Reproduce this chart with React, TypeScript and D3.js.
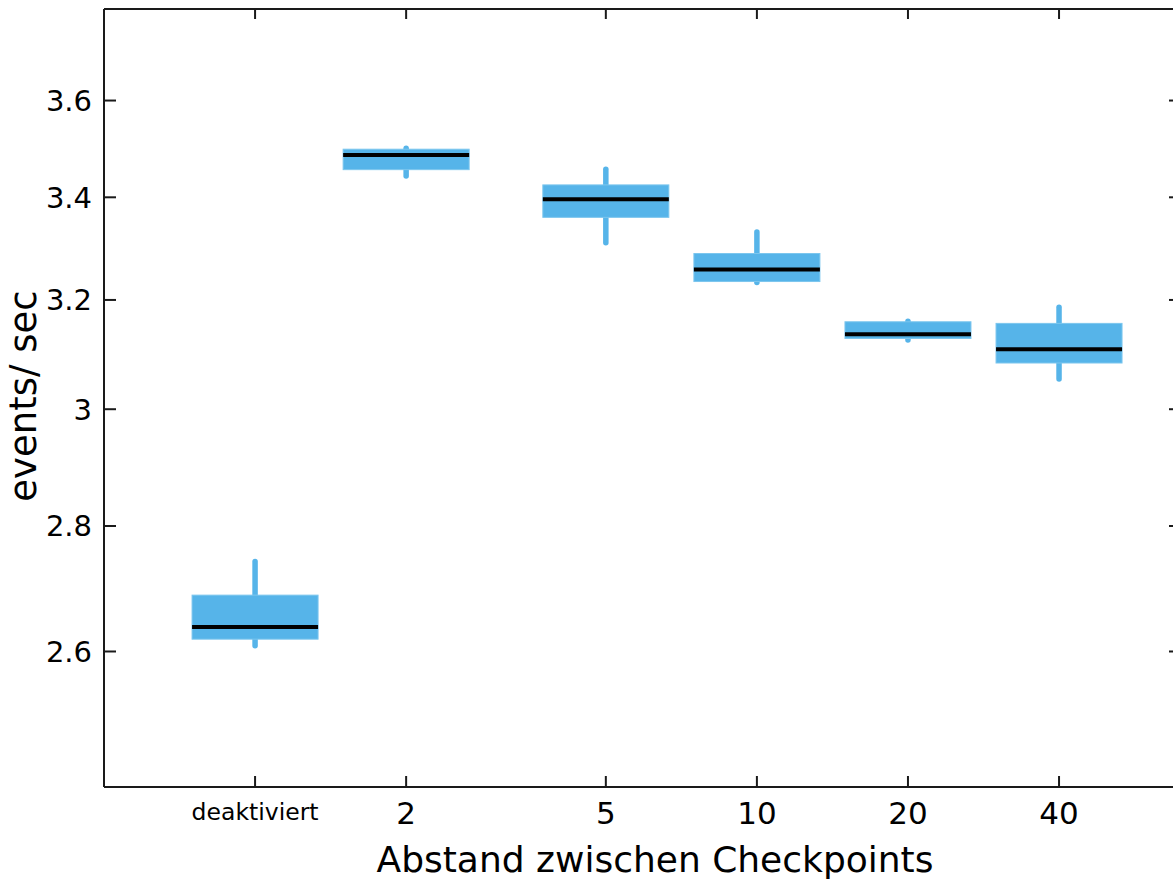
import React from "react";
import * as d3 from "d3";

// checkpoint distance (deaktiviert plotted at 1 on the log axis)
const positions = [1, 2, 5, 10, 20, 40];
const categories = ["deaktiviert", "2", "5", "10", "20", "40"];

// box stats (events/sec)
const whiskerLow = [2.609, 3.443, 3.31, 3.233, 3.125, 3.054];
const q1 = [2.619, 3.456, 3.36, 3.235, 3.128, 3.083];
const median = [2.638, 3.486, 3.396, 3.258, 3.136, 3.108];
const q3 = [2.688, 3.498, 3.425, 3.289, 3.159, 3.156];
const whiskerHigh = [2.742, 3.5, 3.457, 3.331, 3.16, 3.186];

const yTicks = [2.6, 2.8, 3, 3.2, 3.4, 3.6];

const W = 1173;
const H = 881;
const left = 104, right = 1181, top = 9, bottom = 787;
const boxColor = "#56B4E9";
const axisColor = "#1a1a1a";
const font = "DejaVu Sans, sans-serif";

export default function App() {
  const x = d3.scaleLog().domain([0.5, 70]).range([left, right]);
  const y = d3.scaleLog().domain([2.4, 3.8]).range([bottom, top]);
  const boxW = 126;
  const fmt = (v: number) => (Number.isInteger(v) ? String(v) : v.toFixed(1));

  return (
    <svg width={W} height={H} style={{ position: "absolute", left: 0, top: 0, background: "#fff" }}
      fontFamily={font}>
      <rect x={0} y={0} width={W} height={H} fill="#fff" />

      {/* boxes */}
      {positions.map((p, i) => {
        const cx = x(p);
        return (
          <g key={"box" + i}>
            <line x1={cx} x2={cx} y1={y(whiskerLow[i])} y2={y(whiskerHigh[i])}
              stroke={boxColor} strokeWidth={5.5} strokeLinecap="round" />
            <rect x={cx - boxW / 2} y={y(q3[i])} width={boxW} height={y(q1[i]) - y(q3[i])}
              fill={boxColor} stroke="#7cc6ee" strokeWidth={1} />
            <line x1={cx - boxW / 2} x2={cx + boxW / 2} y1={y(median[i])} y2={y(median[i])}
              stroke="#000" strokeWidth={4} />
          </g>
        );
      })}

      {/* frame */}
      <line x1={left} x2={left} y1={top} y2={bottom} stroke={axisColor} strokeWidth={2} />
      <line x1={left} x2={right} y1={bottom} y2={bottom} stroke={axisColor} strokeWidth={2} />
      <line x1={left} x2={right} y1={top} y2={top} stroke={axisColor} strokeWidth={2} />
      <line x1={right} x2={right} y1={top} y2={bottom} stroke={axisColor} strokeWidth={2} />

      {/* y ticks */}
      {yTicks.map((t) => (
        <g key={"yt" + t}>
          <line x1={left} x2={left + 12} y1={y(t)} y2={y(t)} stroke={axisColor} strokeWidth={2} />
          <line x1={right - 12} x2={right} y1={y(t)} y2={y(t)} stroke={axisColor} strokeWidth={2} />
          <text x={92} y={y(t)} dy="0.36em" textAnchor="end" fontSize={29} fill="#000">
            {fmt(t)}
          </text>
        </g>
      ))}

      {/* x ticks */}
      {positions.map((p, i) => (
        <g key={"xt" + i}>
          <line x1={x(p)} x2={x(p)} y1={bottom} y2={bottom - 11} stroke={axisColor} strokeWidth={2} />
          <line x1={x(p)} x2={x(p)} y1={top} y2={top + 10} stroke={axisColor} strokeWidth={2} />
          <text x={x(p)} y={i === 0 ? 820 : 824} textAnchor="middle"
            fontSize={i === 0 ? 23.5 : 31} fill="#000">
            {categories[i]}
          </text>
        </g>
      ))}

      {/* axis titles */}
      <text x={655} y={872} textAnchor="middle" fontSize={36} fill="#000">
        Abstand zwischen Checkpoints
      </text>
      <text transform="translate(36,396) rotate(-90)" textAnchor="middle" fontSize={37} fill="#000">
        events/ sec
      </text>
    </svg>
  );
}
